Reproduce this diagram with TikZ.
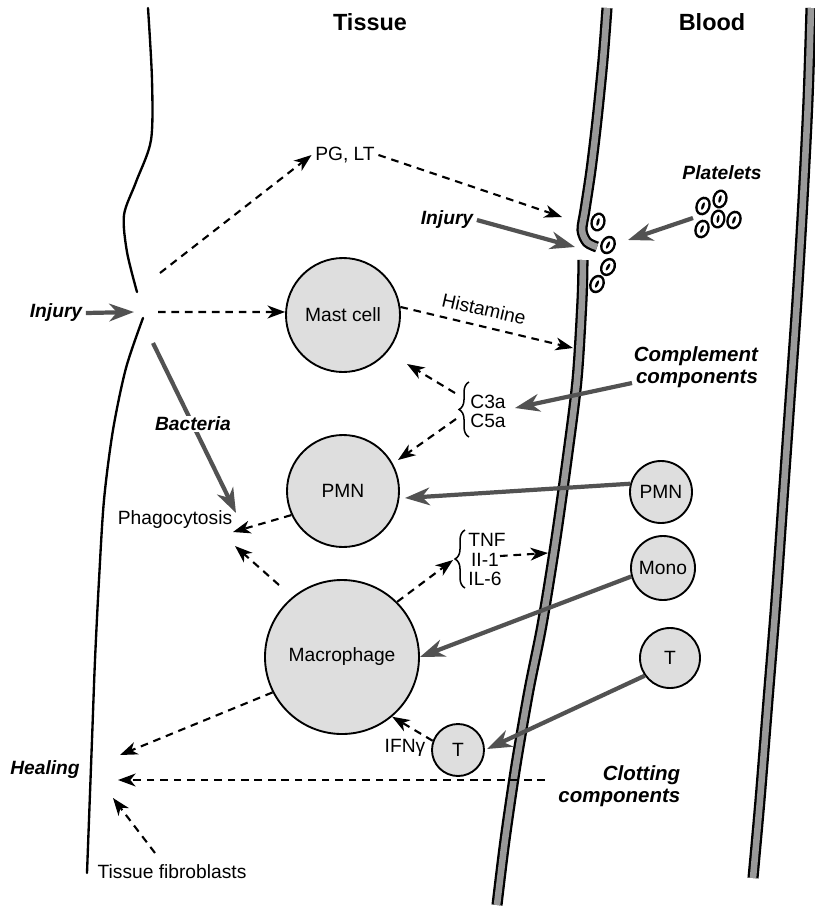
\documentclass[tikz,border=0pt]{standalone}
\usepackage{fontspec}
\setmainfont{Liberation Sans}
\usetikzlibrary{arrows.meta,decorations.pathreplacing}
\newcommand\lblfont{\fontsize{16.4}{18.8}\selectfont}
\newcommand\bifont{\fontsize{16.4}{18.8}\selectfont\bfseries\itshape}
\newcommand\bigbifont{\fontsize{17.5}{19}\selectfont\bfseries\itshape}
\newcommand\hdfont{\fontsize{20}{24}\selectfont\bfseries}
\begin{document}
\begin{tikzpicture}[x=0.03cm,y=-0.03cm,
  lbl/.style={font=\lblfont, inner sep=3pt},
  bi/.style={font=\bifont, inner sep=3pt},
  bbi/.style={font=\bigbifont, inner sep=3pt},
  hd/.style={font=\hdfont, inner sep=2pt},
  cell/.style={circle, draw=black, line width=1.6pt, fill=black!13, inner sep=0pt, font=\lblfont},
  tline/.style={line width=2pt, line cap=round},
  wallout/.style={line width=9.5pt, black},
  wallin/.style={line width=5.6pt, black!40},
  solidarr/.style={draw=black!68, line width=3.6pt, -{Stealth[length=21pt,width=15pt,inset=6.5pt]}},
  dasharr/.style={draw=black, line width=1.8pt, dash pattern=on 6.5pt off 5pt, -{Stealth[length=15pt,width=11pt,inset=4.5pt]}},
  bracestyle/.style={line width=1.3pt, decorate, decoration={brace, amplitude=8.5pt}}
]
\fill[white] (0,0) rectangle (815,910);
\useasboundingbox (0,0) rectangle (815,910);

% tissue boundary
\draw[tline] plot[smooth] coordinates {(148,8) (152,80) (151,140) (136,182) (124,215) (127,252) (137,292)};
\draw[tline] plot[smooth] coordinates {(143,318) (126,368) (113,430) (104,500) (99,580) (95,660) (92,740) (87,873)};

% vessel walls
\foreach \s in {wallout,wallin} {
  \draw[\s] plot[smooth] coordinates {(607,8) (603,60) (597,120) (591,170) (585,210) (582,230) (587,242) (597,247)};
  \draw[\s] plot[smooth] coordinates {(583,260) (582,300) (577,380) (567,460) (555,545) (542,625) (529,690) (516,765) (505,840) (497,905)};
  \draw[\s] plot[smooth] coordinates {(811,8) (808,100) (803,200) (797,300) (790,400) (783,500) (776,600) (768,700) (760,800) (753,878)};
}

% headings
\node[hd] (tissue) at (370,22) {Tissue};
\node[hd] (blood) at (712,22) {Blood};

% platelets
\foreach \px/\py/\pr in {598/222/-15, 608/245/-25, 608/267/-30, 597/284/-25, 703/206/-20, 720/199/-15, 702/229/-20, 718/219/-10, 734/220/-20} {
  \begin{scope}[rotate around={\pr:(\px,\py)}]
    \fill[black] (\px,\py) ellipse [x radius=6.4pt, y radius=8.2pt];
    \fill[white] (\px,\py) ellipse [x radius=4.3pt, y radius=6pt];
    \fill[black] (\px,\py) ellipse [x radius=1.2pt, y radius=3.4pt];
  \end{scope}
}

% cells
\node[cell, minimum size=3.42cm] (mast) at (343,315) {Mast cell};
\node[cell, minimum size=3.36cm] (pmnT) at (343,491) {PMN};
\node[cell, minimum size=4.62cm] (macro) at (342,657) {Macrophage};
\node[cell, minimum size=1.86cm] (pmnB) at (661,492) {PMN};
\node[cell, minimum size=1.92cm] (mono) at (663,568) {Mono};
\node[cell, minimum size=1.8cm] (tB) at (670,658) {T};
\node[cell, minimum size=1.56cm] (tT) at (458,750) {T};

% labels
\node[bi] (injL) at (56,313) {Injury};
\node[bi] (injT) at (447,220) {Injury};
\node[bi] (plt) at (722,173) {Platelets};
\node[lbl] (pglt) at (345,155) {PG, LT};
\node[lbl] (phago) at (175,520) {Phagocytosis};
\node[lbl, rotate=-13] (hist) at (484,309) {Histamine};
\node[bbi, anchor=west, align=right] (compl) at (630,367) {Complement\\components};
\node[lbl] (c3a) at (488,402) {C3a};
\node[lbl] (c5a) at (488,421) {C5a};
\node[lbl] (tnf) at (487,540) {TNF};
\node[lbl] (il1) at (485,560) {II-1};
\node[lbl] (il6) at (485,579) {IL-6};
\node[lbl] (ifn) at (405,748) {IFNγ};
\node[bi] (heal) at (45,770) {Healing};
\node[bbi, anchor=east, align=right] (clot) at (684,786) {Clotting\\components};
\node[lbl] (fib) at (172,872) {Tissue fibroblasts};

% braces
\draw[bracestyle] (469,437) -- (469,382);
\draw[bracestyle] (465,588) -- (465,530);

% coordinates
\coordinate (gapL) at (134,312);
\coordinate (gapR) at (158,312);
\coordinate (gapU) at (160,273);
\coordinate (wallPG) at (562,217);
\coordinate (gapI) at (575,247);
\coordinate (pltS) at (693,218);
\coordinate (pltE) at (628,240);
\coordinate (bacS) at (153,343);
\coordinate (bacE) at (236,513);
\coordinate (wallH) at (573,348);
\coordinate (complS) at (632,383);
\coordinate (complE) at (515,408);
\coordinate (c3aS) at (455,393);
\coordinate (c3aE) at (407,364);
\coordinate (c5aS) at (456,419);
\coordinate (c5aE) at (398,460);
\coordinate (pmnTe) at (405,498);
\coordinate (phagoE1) at (233,532);
\coordinate (macS) at (279,585);
\coordinate (phagoE2) at (235,546);
\coordinate (tnfB) at (453,560);
\coordinate (il1S) at (500,556);
\coordinate (il1E) at (548,553);
\coordinate (healA) at (120,755);
\coordinate (clotS) at (545,780);
\coordinate (healB) at (118,780);
\coordinate (fibS) at (155,853);
\coordinate (healC) at (113,798);

% bacteria line (under its label)
\draw[solidarr] (bacS) -- (bacE);
\node[bi, fill=white, inner sep=1pt] (bact) at (193,424) {Bacteria};

% solid arrows
\draw[solidarr] (injL.east) -- (gapL);
\draw[solidarr] (injT.east) -- (gapI);
\draw[solidarr] (pltS) -- (pltE);
\draw[solidarr] (complS) -- (complE);
\draw[solidarr] (pmnB.165) -- (pmnTe);
\draw[solidarr] (mono.195) -- (macro.east);
\draw[solidarr, shorten >=2pt] (tB.215) -- (tT.east);

% dashed arrows
\draw[dasharr] (gapR) -- (mast.177);
\draw[dasharr] (gapU) -- (pglt.west);
\draw[dasharr] (pglt.east) -- (wallPG);
\draw[dasharr] (mast.8) -- (wallH);
\draw[dasharr] (c3aS) -- (c3aE);
\draw[dasharr] (c5aS) -- (c5aE);
\draw[dasharr] (pmnT.205) -- (phagoE1);
\draw[dasharr] (macS) -- (phagoE2);
\draw[dasharr] (macro.45) -- (tnfB);
\draw[dasharr] (il1S) -- (il1E);
\draw[dasharr] (tT.160) -- (macro.-50);
\draw[dasharr] (macro.-153) -- (healA);
\draw[dasharr] (clotS) -- (healB);
\draw[dasharr] (fibS) -- (healC);
\end{tikzpicture}
\end{document}
